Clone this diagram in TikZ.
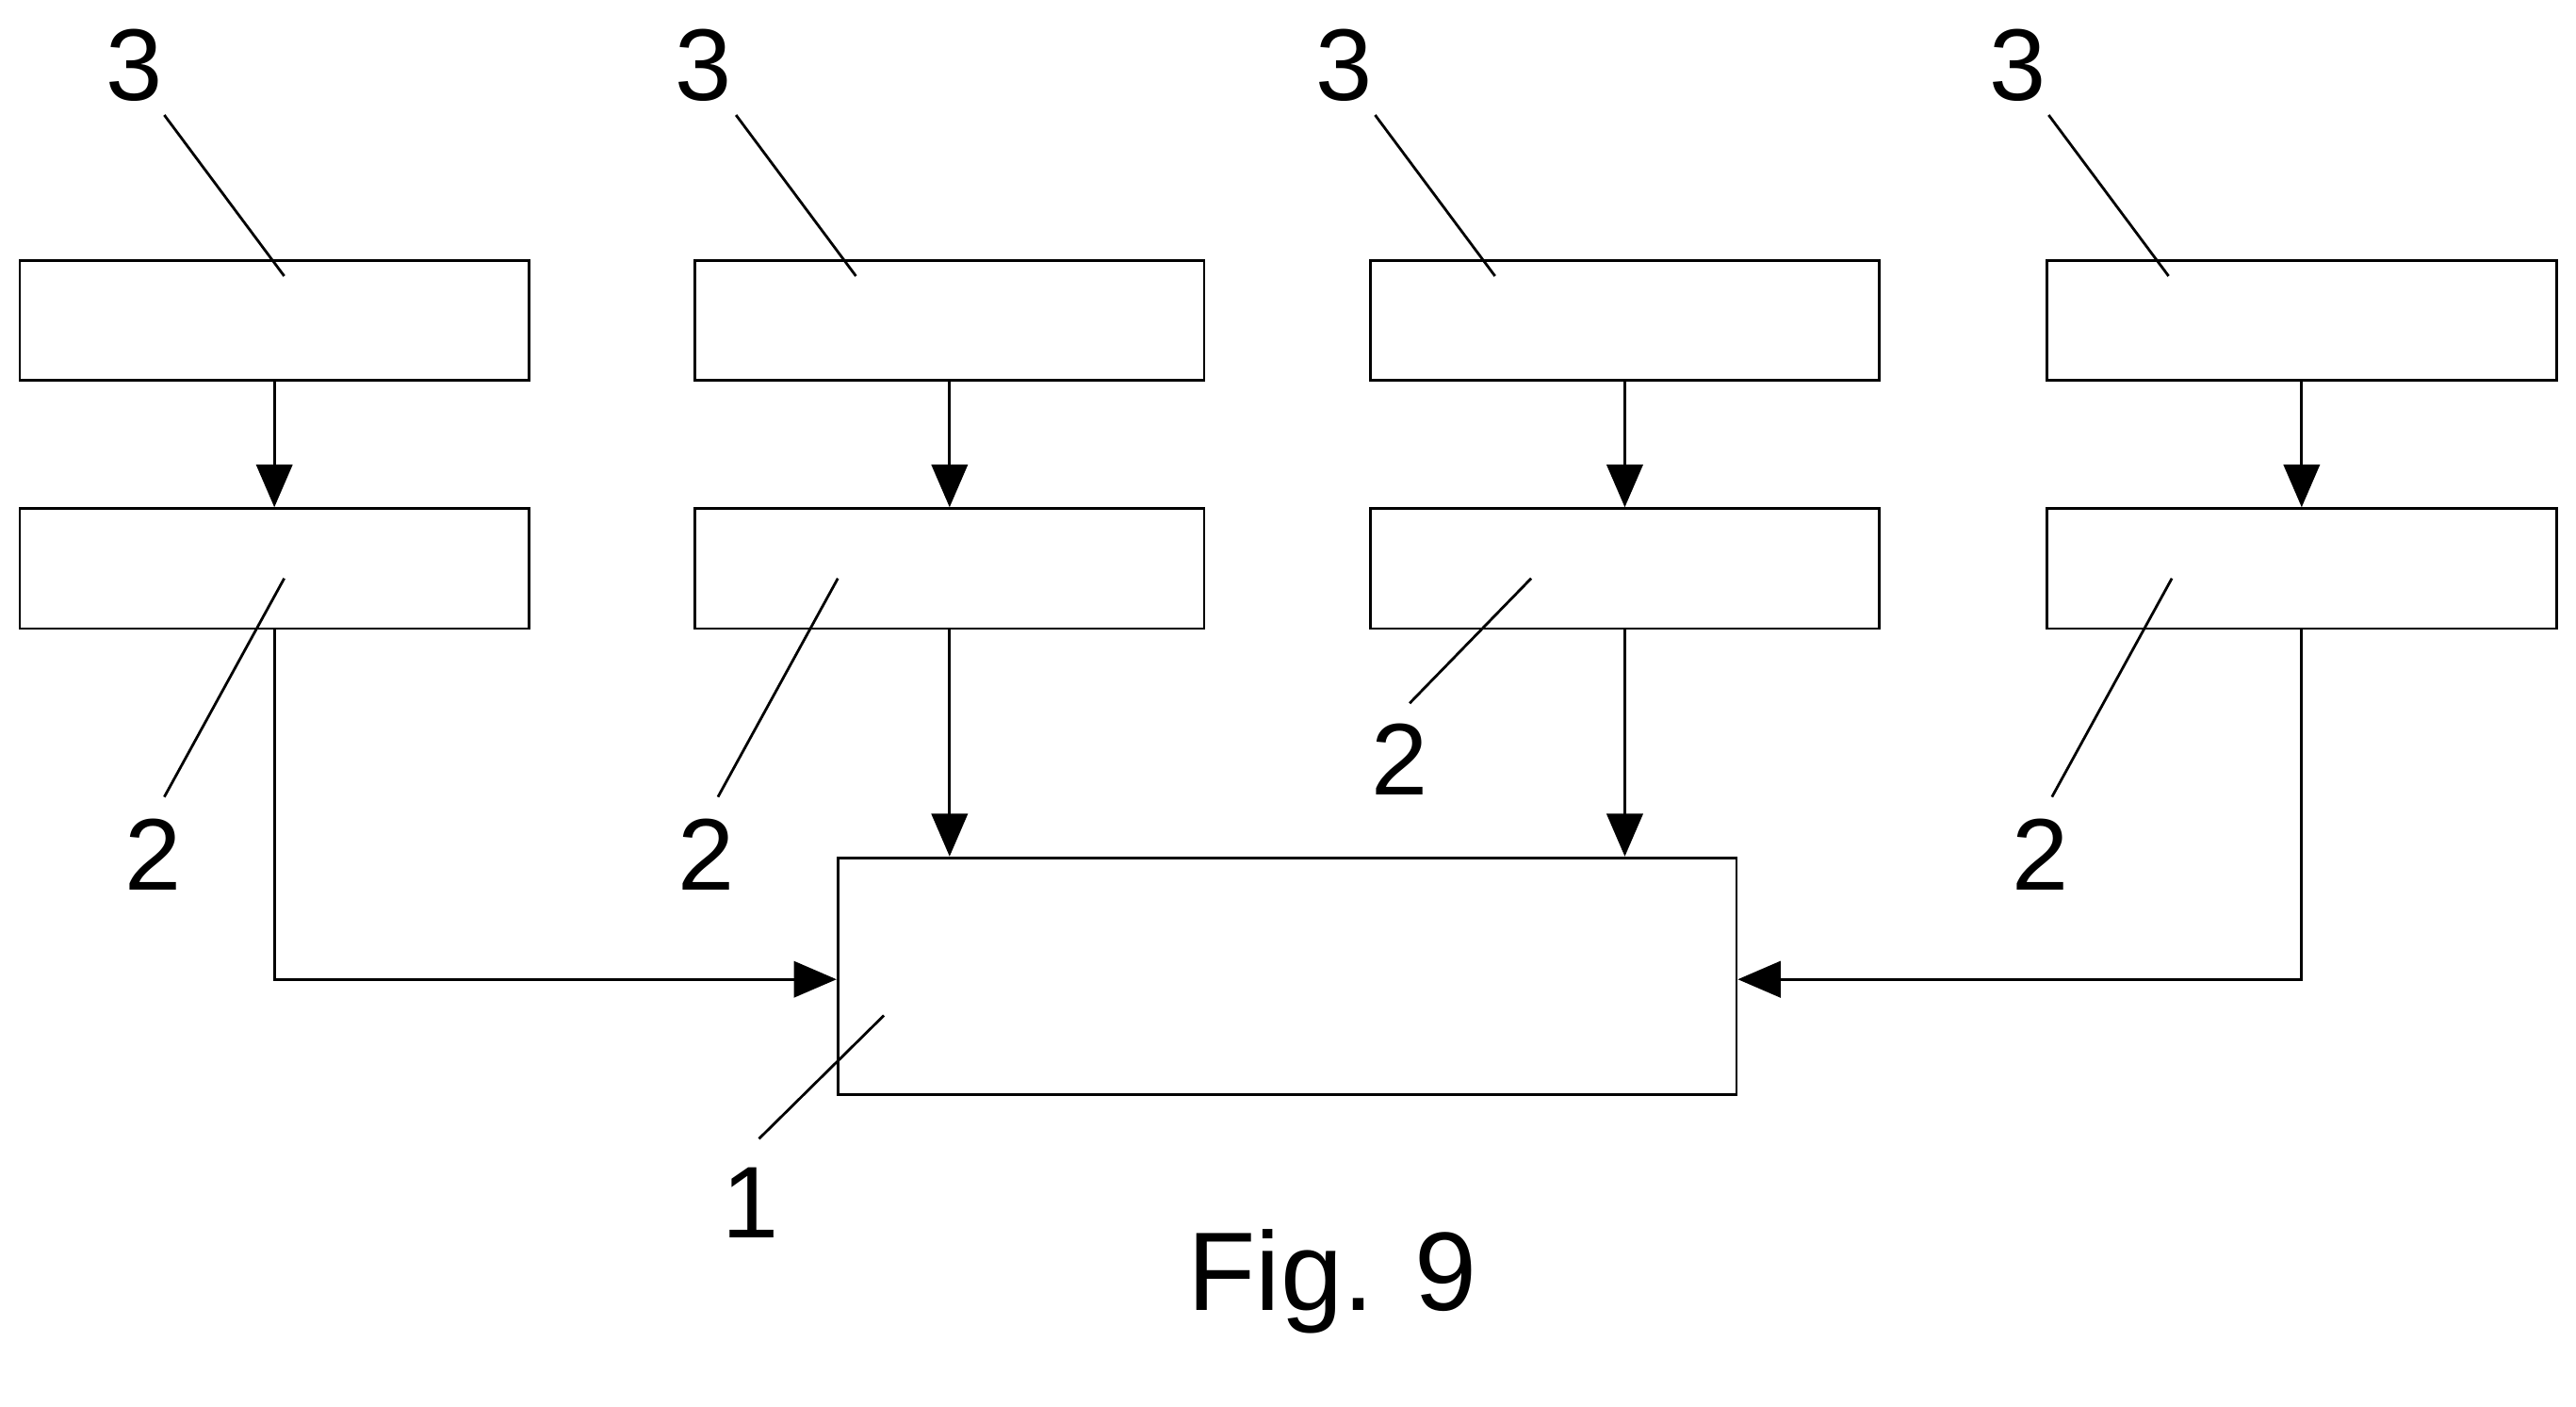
\documentclass[tikz,border=0pt]{standalone}
\usepackage{fontspec}
\setmainfont{Liberation Sans}
\usetikzlibrary{arrows.meta}
\begin{document}
\begin{tikzpicture}[x=1pt,y=-1pt,
  box/.style={draw,line width=1.6pt,minimum width=310pt,minimum height=73pt,inner sep=0pt},
  arr/.style={line width=1.6pt,-{Triangle[length=26pt,width=22pt]}},
  lead/.style={line width=1.6pt},
  lab/.style={font=\fontsize{62}{62}\selectfont,inner sep=0pt}]
\useasboundingbox (0,0) rectangle (1568,856);
\foreach \i/\x in {1/167,2/578,3/989,4/1401}{
  \node[box] (t\i) at (\x,195) {};
  \node[box] (m\i) at (\x,346) {};
  \draw[arr] (t\i.south) -- (m\i.north);
}
\node[box,minimum width=547pt,minimum height=144pt] (one) at (783.5,594) {};
\draw[arr] (m2.south) -- (m2.south |- one.north);
\draw[arr] (m3.south) -- (m3.south |- one.north);
\draw[arr] (m1.south) |- (one.west |- 0,596);
\draw[arr] (m4.south) |- (one.east |- 0,596);
% labels 3
\foreach \i/\lx/\ax in {1/82/100,2/428/448,3/818/837,4/1228/1247}{
  \node[lab] (l3\i) at (\lx,40) {3};
  \coordinate (a3\i) at (\ax,70);
  \coordinate (b3\i) at (\ax+73,168);
  \draw[lead] (a3\i) -- (b3\i);
}
% labels 2
\node[lab] (l21) at (93,520) {2};
\node[lab] (l22) at (430,520) {2};
\node[lab] (l23) at (852,462) {2};
\node[lab] (l24) at (1242,520) {2};
\coordinate (c1) at (100,485); \coordinate (d1) at (173,352);
\coordinate (c2) at (437,485); \coordinate (d2) at (510,352);
\coordinate (c3) at (858,428); \coordinate (d3) at (932,352);
\coordinate (c4) at (1249,485); \coordinate (d4) at (1322,352);
\foreach \i in {1,2,3,4}{\draw[lead] (c\i) -- (d\i);}
% label 1
\node[lab] (l1) at (457,732) {1};
\coordinate (e1) at (462,693); \coordinate (f1) at (538,618);
\draw[lead] (e1) -- (f1);
\node[font=\fontsize{68}{68}\selectfont,inner sep=0pt] (fig) at (811,780) {Fig. 9};
\end{tikzpicture}
\end{document}
